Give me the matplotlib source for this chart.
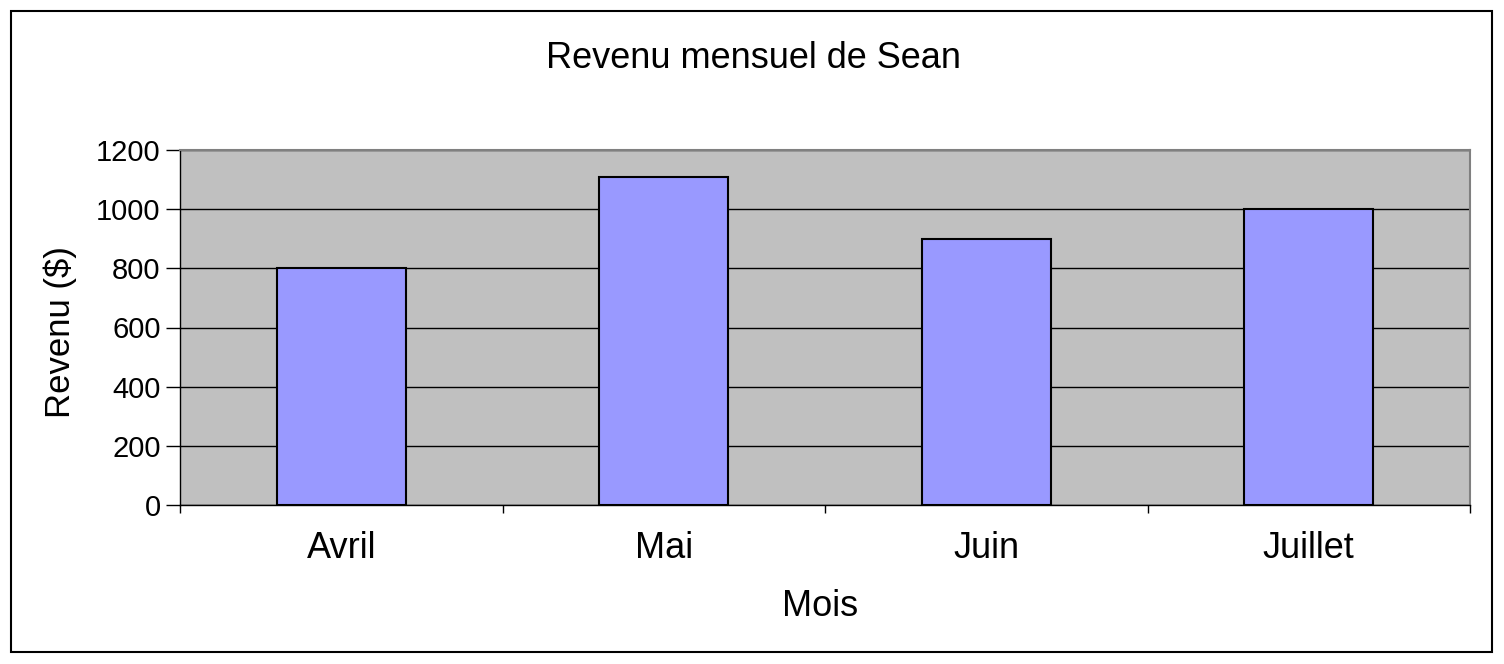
import numpy as np
import matplotlib.pyplot as plt
from matplotlib.patches import Rectangle

# Monthly income data
mois = ["Avril", "Mai", "Juin", "Juillet"]
revenu = [800, 1110, 900, 1000]
y_ticks = [0, 200, 400, 600, 800, 1000, 1200]

plt.rcParams['font.family'] = ['Liberation Sans', 'DejaVu Sans']

W, H = 1504, 664
fig = plt.figure(figsize=(W / 100, H / 100), dpi=100)
ax = fig.add_axes([180 / W, 1 - 505 / H, 1290 / W, 355 / H])

# outer chart border
fig.patches.append(Rectangle((11 / W, 12 / H), 1481 / W, 641 / H,
                             transform=fig.transFigure, fill=False,
                             edgecolor="black", linewidth=1.5))

x = np.arange(len(mois))
ax.set_facecolor("#C0C0C0")
ax.bar(x, revenu, width=0.4, color="#9999FF", edgecolor="black",
       linewidth=1.5, zorder=3)

ax.set_xlim(-0.5, len(mois) - 0.5)
ax.set_ylim(0, 1200)
ax.set_yticks(y_ticks)
ax.yaxis.grid(True, color="black", linewidth=1, zorder=0)
ax.set_axisbelow(True)

ax.set_xticks(x)
ax.set_xticklabels(mois, fontsize=26)
ax.set_xticks(np.arange(len(mois) + 1) - 0.5, minor=True)
ax.tick_params(axis="x", which="major", length=0, pad=19)
ax.tick_params(axis="x", which="minor", length=6, width=1, color="black")
ax.tick_params(axis="y", length=10, width=1, labelsize=21, pad=4)

for side in ["top", "right"]:
    ax.spines[side].set_color("#808080")
    ax.spines[side].set_linewidth(1.5)
for side in ["left", "bottom"]:
    ax.spines[side].set_color("black")
    ax.spines[side].set_linewidth(1)

fig.text(754 / W, 1 - 58 / H, "Revenu mensuel de Sean", fontsize=26,
         ha="center", va="center")
fig.text(820 / W, 1 - 607 / H, "Mois", fontsize=26, ha="center", va="center")
fig.text(60 / W, 1 - 332 / H, "Revenu ($)", fontsize=25, rotation=90,
         ha="center", va="center")

fig.savefig("out.png", dpi=100)
